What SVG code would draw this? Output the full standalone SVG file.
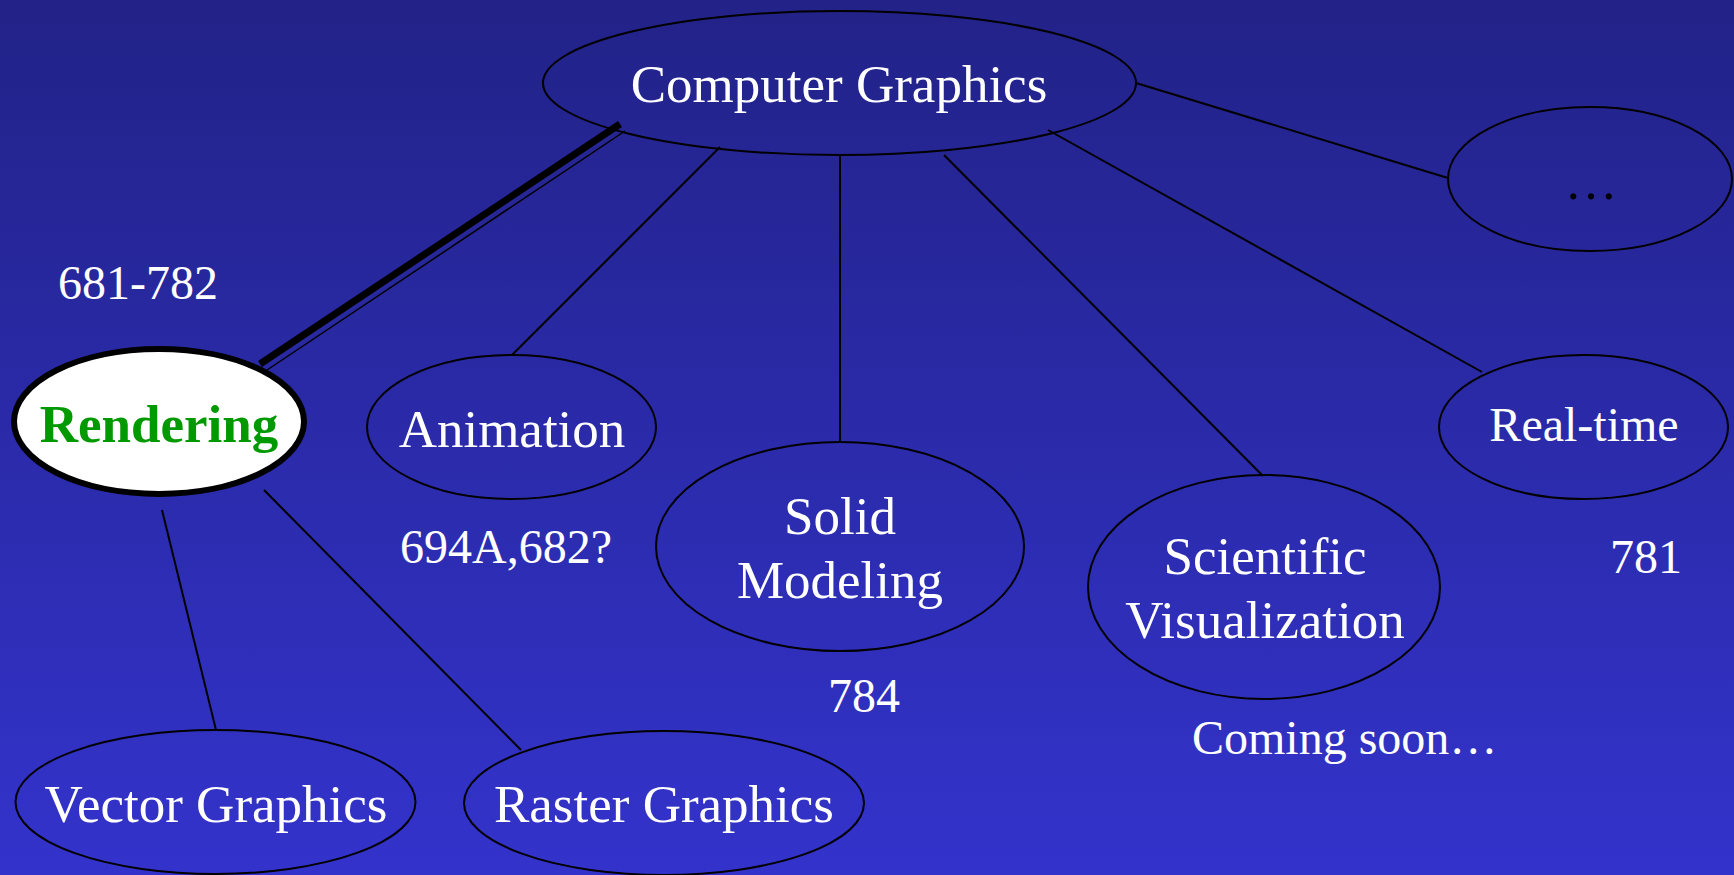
<svg xmlns="http://www.w3.org/2000/svg" width="1734" height="875" viewBox="0 0 1734 875">
  <defs>
    <linearGradient id="bg" x1="0" y1="0" x2="0" y2="1">
      <stop offset="0" stop-color="#222288"/>
      <stop offset="1" stop-color="#3333cc"/>
    </linearGradient>
  </defs>
  <style>
    .node { fill: none; stroke: #000; stroke-width: 2; }
    .edge { stroke: #000; stroke-width: 2; fill: none; }
    .edge.heavy { stroke-width: 7; }
    .edge.fine { stroke-width: 1.5; }
    .lbl { font-family: "Liberation Serif", "Times New Roman", serif; fill: #fff; }
    .big { font-size: 53px; }
    .small { font-size: 48px; }
    .mid { text-anchor: middle; }
  </style>

  <rect x="0" y="0" width="1734" height="875" fill="url(#bg)"/>

  <!-- connectors -->
  <g id="connectors">
    <line class="edge heavy" x1="620" y1="124" x2="260" y2="364"/>
    <line class="edge fine" x1="625" y1="131" x2="267" y2="370"/>
    <line class="edge" x1="720" y1="147" x2="512" y2="355"/>
    <line class="edge" x1="840" y1="155" x2="840" y2="442"/>
    <line class="edge" x1="944" y1="155" x2="1263" y2="476"/>
    <line class="edge" x1="1048" y1="130" x2="1482" y2="372"/>
    <line class="edge" x1="1136" y1="83" x2="1448" y2="178"/>
    <line class="edge" x1="162" y1="510" x2="216" y2="730"/>
    <line class="edge" x1="264" y1="490" x2="521" y2="750"/>
  </g>

  <g id="computer-graphics">
    <ellipse class="node" cx="839.5" cy="83" rx="296.5" ry="72"/>
    <text class="lbl big mid" x="839" y="102">Computer Graphics</text>
  </g>

  <g id="more">
    <ellipse class="node" cx="1590" cy="179" rx="142" ry="72"/>
    <text class="big mid" x="1591" y="199" font-family="Liberation Serif, serif" fill="#000">…</text>
  </g>

  <g id="rendering">
    <ellipse cx="159" cy="421.5" rx="145" ry="72.5" fill="#fff" stroke="#000" stroke-width="6"/>
    <text class="big mid" x="159" y="442" font-family="Liberation Serif, serif" font-weight="bold" fill="#009900">Rendering</text>
  </g>

  <g id="animation">
    <ellipse class="node" cx="511.5" cy="427" rx="144.5" ry="72"/>
    <text class="lbl big mid" x="512" y="447">Animation</text>
  </g>

  <g id="solid-modeling">
    <ellipse class="node" cx="840" cy="546.5" rx="184" ry="104.5"/>
    <text class="lbl big mid" x="840" y="534">Solid</text>
    <text class="lbl big mid" x="840" y="598">Modeling</text>
  </g>

  <g id="scientific-visualization">
    <ellipse class="node" cx="1264" cy="587" rx="176" ry="112"/>
    <text class="lbl big mid" x="1265" y="574">Scientific</text>
    <text class="lbl big mid" x="1265" y="638">Visualization</text>
  </g>

  <g id="real-time">
    <ellipse class="node" cx="1583.5" cy="427" rx="144.5" ry="72"/>
    <text class="lbl small mid" x="1584" y="441">Real-time</text>
  </g>

  <g id="vector-graphics">
    <ellipse class="node" cx="215.5" cy="802" rx="200" ry="72"/>
    <text class="lbl big mid" x="216" y="822">Vector Graphics</text>
  </g>

  <g id="raster-graphics">
    <ellipse class="node" cx="664" cy="803" rx="200" ry="72"/>
    <text class="lbl big mid" x="664" y="822">Raster Graphics</text>
  </g>

  <!-- course numbers and notes -->
  <g id="notes">
    <text class="lbl small" x="58" y="299">681-782</text>
    <text class="lbl small" x="400" y="563">694A,682?</text>
    <text class="lbl small" x="828" y="712">784</text>
    <text class="lbl small" x="1610" y="573">781</text>
    <text class="lbl small" x="1192" y="754">Coming soon…</text>
  </g>
</svg>
